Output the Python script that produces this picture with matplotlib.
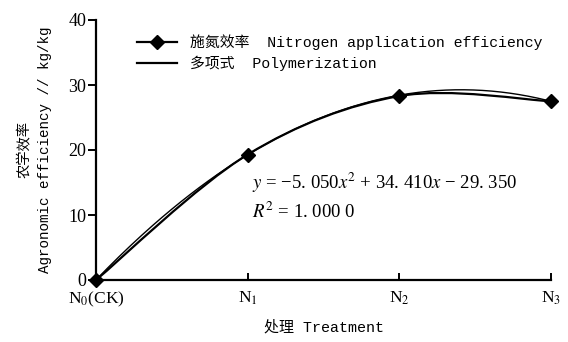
import numpy as np
import matplotlib
matplotlib.use("Agg")
import matplotlib.pyplot as plt
from matplotlib.path import Path
from matplotlib.patches import PathPatch
from matplotlib.lines import Line2D

plt.rcParams["font.family"] = ["Liberation Serif", "Noto Sans CJK SC"]
plt.rcParams["mathtext.fontset"] = "stix"

treatments = ["N$_0$(CK)", "N$_1$", "N$_2$", "N$_3$"]
efficiency = [0.0, 19.3, 28.3, 27.5]
poly_coef = [-5.050, 34.410, -29.350]
eq_text = "$y$ = −5. 050$x^2$ + 34. 410$x$ − 29. 350"
r2_text = "$R^2$ = 1. 000 0"

MONO = ["Liberation Mono", "Noto Sans CJK SC"]

fig = plt.figure(figsize=(5.68, 3.42), dpi=100)
ax = fig.add_axes([96 / 568, 1 - 280 / 342, 455 / 568, 260 / 342])

xs = np.arange(1, len(efficiency) + 1)

# smoothed data line (Excel-style cubic Bezier through the points)
pts = list(zip(xs, efficiency))
ext = [pts[0]] + pts + [pts[-1]]
verts = [pts[0]]
codes = [Path.MOVETO]
for i in range(1, len(ext) - 2):
    p0, p1, p2, p3 = ext[i - 1], ext[i], ext[i + 1], ext[i + 2]
    c1 = (p1[0] + (p2[0] - p0[0]) / 6, p1[1] + (p2[1] - p0[1]) / 6)
    c2 = (p2[0] - (p3[0] - p1[0]) / 6, p2[1] - (p3[1] - p1[1]) / 6)
    verts += [c1, c2, p2]
    codes += [Path.CURVE4] * 3
ax.add_patch(PathPatch(Path(verts, codes), facecolor="none", edgecolor="black",
                       lw=1.6, zorder=3))
ax.plot(xs, efficiency, ls="none", marker="D", ms=7, color="black", zorder=4,
        clip_on=False)

# polynomial trend line
xf = np.linspace(1, 4, 200)
ax.plot(xf, np.polyval(poly_coef, xf), color="black", lw=1.0, zorder=2)

ax.set_xlim(1, 4)
ax.set_ylim(0, 40)
ax.set_yticks([0, 10, 20, 30, 40])
ax.set_xticks(xs)
ax.set_xticklabels(treatments)
ax.spines["top"].set_visible(False)
ax.spines["right"].set_visible(False)
for s in ("left", "bottom"):
    ax.spines[s].set_linewidth(1.6)
ax.tick_params(axis="y", direction="out", length=6, width=1.4, labelsize=13, pad=1)
ax.tick_params(axis="x", direction="in", length=5, width=1.4, labelsize=12.5, pad=7)

ax.set_xlabel("处理 Treatment", fontsize=10.8, family=MONO, labelpad=8)
ax.set_ylabel("农学效率\nAgronomic efficiency // kg/kg", fontsize=10.3, family=MONO,
              labelpad=12, linespacing=1.5)

ax.text(2.03, 14.9, eq_text, fontsize=13.5, va="center")
ax.text(2.03, 10.5, r2_text, fontsize=13.5, va="center")

handles = [
    Line2D([], [], color="black", lw=1.6, marker="D", ms=7),
    Line2D([], [], color="black", lw=1.6),
]
labels = ["施氮效率  Nitrogen application efficiency", "多项式  Polymerization"]
ax.legend(handles, labels, loc="upper left", bbox_to_anchor=(137 / 568, 1 - 34 / 342),
          bbox_transform=fig.transFigure, frameon=False, prop={"family": MONO, "size": 10.7},
          handlelength=2.7, handletextpad=0.85, labelspacing=0.4, borderaxespad=0,
          borderpad=0)

fig.savefig("out.png", dpi=100)
